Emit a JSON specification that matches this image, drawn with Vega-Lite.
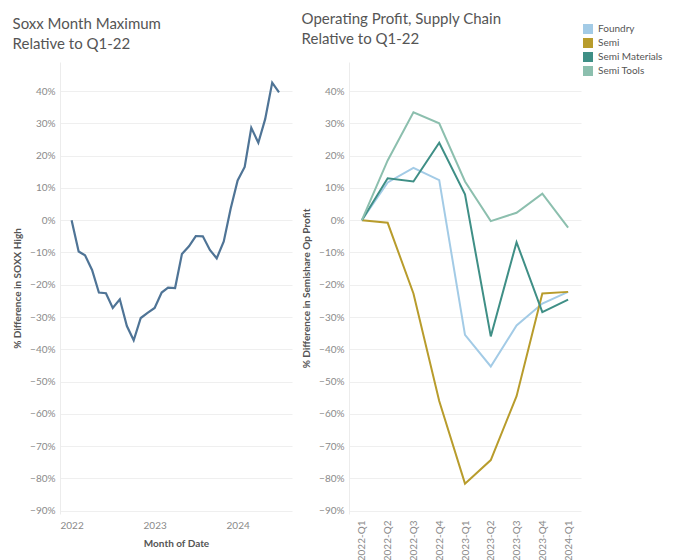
{
  "$schema": "https://vega.github.io/schema/vega-lite/v6.json",
  "background": "white",
  "padding": {"left": 12, "top": 12, "right": 5, "bottom": 5},
  "spacing": 9,
  "resolve": {"scale": {"color": "independent"}},
  "config": {
    "font": "Lato",
    "view": {"stroke": null},
    "axis": {
      "labelFont": "Lato",
      "labelFontSize": 10,
      "labelColor": "#8a8a8a",
      "titleFont": "Lato",
      "titleFontSize": 10,
      "titleColor": "#555555",
      "titleFontWeight": "bold",
      "ticks": false,
      "gridColor": "#efefef",
      "gridWidth": 1
    },
    "title": {"font": "Lato", "fontSize": 15, "fontWeight": "normal", "color": "#555555", "anchor": "start", "lineHeight": 20, "offset": 10}
  },
  "hconcat": [
    {
      "width": 232,
      "height": 452,
      "title": {"text": ["Soxx Month Maximum", "Relative to Q1-22"]},
      "data": {"values": [
        {"date": "2022-01-01", "v": 0.0},
        {"date": "2022-02-01", "v": -0.097},
        {"date": "2022-03-01", "v": -0.109},
        {"date": "2022-04-01", "v": -0.154},
        {"date": "2022-05-01", "v": -0.224},
        {"date": "2022-06-01", "v": -0.226},
        {"date": "2022-07-01", "v": -0.272},
        {"date": "2022-08-01", "v": -0.245},
        {"date": "2022-09-01", "v": -0.328},
        {"date": "2022-10-01", "v": -0.372},
        {"date": "2022-11-01", "v": -0.303},
        {"date": "2022-12-01", "v": -0.287},
        {"date": "2023-01-01", "v": -0.272},
        {"date": "2023-02-01", "v": -0.224},
        {"date": "2023-03-01", "v": -0.209},
        {"date": "2023-04-01", "v": -0.21},
        {"date": "2023-05-01", "v": -0.105},
        {"date": "2023-06-01", "v": -0.081},
        {"date": "2023-07-01", "v": -0.049},
        {"date": "2023-08-01", "v": -0.05},
        {"date": "2023-09-01", "v": -0.092},
        {"date": "2023-10-01", "v": -0.118},
        {"date": "2023-11-01", "v": -0.066},
        {"date": "2023-12-01", "v": 0.035},
        {"date": "2024-01-01", "v": 0.123},
        {"date": "2024-02-01", "v": 0.165},
        {"date": "2024-03-01", "v": 0.286},
        {"date": "2024-04-01", "v": 0.24},
        {"date": "2024-05-01", "v": 0.313},
        {"date": "2024-06-01", "v": 0.426},
        {"date": "2024-07-01", "v": 0.396}
      ]},
      "mark": {"type": "line", "color": "#4f7496", "strokeWidth": 2.2},
      "encoding": {
        "x": {
          "field": "date", "type": "temporal",
          "scale": {"domain": ["2021-11-11", "2024-08-27"]},
          "axis": {
            "title": "Month of Date", "format": "%Y", "grid": false, "domain": false,
            "labelAngle": 0, "labelPadding": 6, "titlePadding": 8,
            "values": [{"year": 2022, "month": 1, "date": 1}, {"year": 2023, "month": 1, "date": 1}, {"year": 2024, "month": 1, "date": 1}]
          }
        },
        "y": {
          "field": "v", "type": "quantitative",
          "scale": {"domain": [-0.91, 0.49], "nice": false},
          "axis": {
            "title": "% Difference in SOXX High", "format": ".0%",
            "values": [-0.9, -0.8, -0.7, -0.6, -0.5, -0.4, -0.3, -0.2, -0.1, 0, 0.1, 0.2, 0.3, 0.4],
            "domainColor": "#ececec", "labelPadding": 5, "titlePadding": 7
          }
        }
      }
    },
    {
      "width": 232,
      "height": 452,
      "title": {"text": ["Operating Profit, Supply Chain", "Relative to Q1-22"], "dy": 33},
      "data": {"values": [
        {"q": "2022-Q1", "s": "Foundry", "v": 0.0},
        {"q": "2022-Q2", "s": "Foundry", "v": 0.117},
        {"q": "2022-Q3", "s": "Foundry", "v": 0.162},
        {"q": "2022-Q4", "s": "Foundry", "v": 0.124},
        {"q": "2023-Q1", "s": "Foundry", "v": -0.355},
        {"q": "2023-Q2", "s": "Foundry", "v": -0.453},
        {"q": "2023-Q3", "s": "Foundry", "v": -0.326},
        {"q": "2023-Q4", "s": "Foundry", "v": -0.258},
        {"q": "2024-Q1", "s": "Foundry", "v": -0.222},
        {"q": "2022-Q1", "s": "Semi", "v": 0.0},
        {"q": "2022-Q2", "s": "Semi", "v": -0.008},
        {"q": "2022-Q3", "s": "Semi", "v": -0.227},
        {"q": "2022-Q4", "s": "Semi", "v": -0.56},
        {"q": "2023-Q1", "s": "Semi", "v": -0.816},
        {"q": "2023-Q2", "s": "Semi", "v": -0.743},
        {"q": "2023-Q3", "s": "Semi", "v": -0.545},
        {"q": "2023-Q4", "s": "Semi", "v": -0.227},
        {"q": "2024-Q1", "s": "Semi", "v": -0.222},
        {"q": "2022-Q1", "s": "Semi Materials", "v": 0.0},
        {"q": "2022-Q2", "s": "Semi Materials", "v": 0.13},
        {"q": "2022-Q3", "s": "Semi Materials", "v": 0.12},
        {"q": "2022-Q4", "s": "Semi Materials", "v": 0.24},
        {"q": "2023-Q1", "s": "Semi Materials", "v": 0.08},
        {"q": "2023-Q2", "s": "Semi Materials", "v": -0.36},
        {"q": "2023-Q3", "s": "Semi Materials", "v": -0.068},
        {"q": "2023-Q4", "s": "Semi Materials", "v": -0.285},
        {"q": "2024-Q1", "s": "Semi Materials", "v": -0.246},
        {"q": "2022-Q1", "s": "Semi Tools", "v": 0.0},
        {"q": "2022-Q2", "s": "Semi Tools", "v": 0.185},
        {"q": "2022-Q3", "s": "Semi Tools", "v": 0.334},
        {"q": "2022-Q4", "s": "Semi Tools", "v": 0.30},
        {"q": "2023-Q1", "s": "Semi Tools", "v": 0.12},
        {"q": "2023-Q2", "s": "Semi Tools", "v": -0.003},
        {"q": "2023-Q3", "s": "Semi Tools", "v": 0.023},
        {"q": "2023-Q4", "s": "Semi Tools", "v": 0.082},
        {"q": "2024-Q1", "s": "Semi Tools", "v": -0.023}
      ]},
      "mark": {"type": "line", "strokeWidth": 2},
      "encoding": {
        "x": {
          "field": "q", "type": "ordinal",
          "scale": {"type": "point", "padding": 0.5},
          "axis": {"title": null, "labelAngle": -90, "grid": false, "domain": false, "labelPadding": 6}
        },
        "y": {
          "field": "v", "type": "quantitative",
          "scale": {"domain": [-0.91, 0.49], "nice": false},
          "axis": {
            "title": "% Difference in Semishare Op Profit", "format": ".0%",
            "values": [-0.9, -0.8, -0.7, -0.6, -0.5, -0.4, -0.3, -0.2, -0.1, 0, 0.1, 0.2, 0.3, 0.4],
            "domainColor": "#ececec", "labelPadding": 5, "titlePadding": 7
          }
        },
        "color": {
          "field": "s", "type": "nominal",
          "scale": {"domain": ["Foundry", "Semi", "Semi Materials", "Semi Tools"], "range": ["#a3cbe6", "#b89c2c", "#3f8f86", "#8cbfae"]},
          "legend": {
            "title": null, "orient": "none", "legendX": 234, "legendY": -38,
            "symbolType": "square", "symbolSize": 100, "symbolStrokeWidth": 0, "symbolOpacity": 1,
            "labelFont": "Lato", "labelFontSize": 10, "labelColor": "#555555", "rowPadding": 4, "labelOffset": 5,
            "encode": {"symbols": {"update": {
              "fill": {"signal": "datum.value == 'Foundry' ? '#a3cbe6' : datum.value == 'Semi' ? '#b89c2c' : datum.value == 'Semi Materials' ? '#3f8f86' : '#8cbfae'"},
              "fillOpacity": {"value": 1}
            }}}
          }
        },
        "order": {"field": "s"}
      }
    }
  ]
}
